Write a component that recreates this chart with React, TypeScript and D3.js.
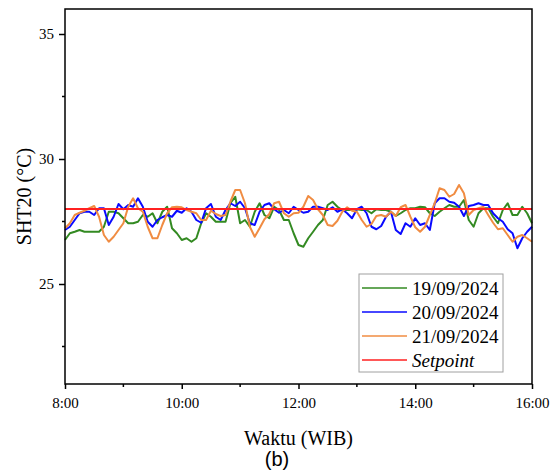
import React, { useRef, useEffect } from "react";
import * as d3 from "d3";

// temperature readings every 5 minutes from 8:00 to 16:00 (°C)
const sep19 = [
  26.76, 27.03, 27.09, 27.16, 27.09, 27.09, 27.09, 27.09, 27.29, 27.89, 27.89, 27.83,
  27.63, 27.43, 27.43, 27.49, 27.76, 27.69, 27.83, 27.43, 27.89, 28.09, 27.23, 27.03,
  26.76, 26.83, 26.69, 26.83, 27.43, 27.83, 27.69, 27.49, 27.49, 27.49, 28.23, 28.49,
  27.43, 27.56, 27.29, 27.89, 28.23, 27.76, 27.63, 28.09, 27.96, 27.56, 27.56, 27.03,
  26.56, 26.49, 26.83, 27.09, 27.36, 27.56, 28.16, 28.29, 28.09, 27.96, 27.96, 27.96,
  27.99, 27.96, 27.96, 27.83, 27.99, 27.96, 27.96, 27.89, 27.72, 27.83, 27.96, 28.03,
  28.03, 28.09, 28.07, 27.83, 27.72, 27.89, 28.03, 28.16, 28.09, 28.09, 28.36, 27.56,
  27.29, 27.83, 28.03, 28.03, 27.69, 27.43, 27.96, 28.23, 27.76, 27.76, 28.09, 27.83,
  27.43,
];
const sep20 = [
  27.16, 27.29, 27.56, 27.83, 27.89, 27.89, 27.76, 28.03, 28.03, 27.36, 27.69, 28.2,
  27.99, 28.16, 28.09, 28.43, 28.09, 27.49, 27.29, 27.56, 27.67, 27.76, 27.69, 27.93,
  27.85, 28.03, 27.89, 27.56, 27.45, 28.03, 28.2, 27.69, 27.56, 27.96, 28.23, 28.12,
  28.29, 28.03, 27.43, 27.36, 27.89, 28.16, 28.23, 27.99, 27.85, 27.96, 27.83, 28.09,
  27.96, 27.85, 27.89, 28.09, 28.09, 28.03, 27.96, 28.07, 27.89, 27.99, 27.83, 27.63,
  27.99, 28.09, 27.83, 27.29, 27.19, 27.32, 27.69, 27.89, 27.16, 27.0, 27.43, 27.29,
  27.63, 27.36, 27.43, 27.16, 28.23, 28.43, 28.43, 28.29, 28.25, 28.09, 27.72, 28.12,
  28.16, 28.23, 28.16, 28.16, 27.83, 27.63, 27.49, 27.19, 27.03, 26.43, 26.83, 27.09,
  27.29,
];
const sep21 = [
  27.23, 27.43, 27.76, 27.85, 27.93, 28.03, 28.12, 27.69, 26.96, 26.69, 26.89, 27.16,
  27.43, 28.09, 28.43, 28.03, 27.89, 27.29, 26.83, 26.83, 27.36, 27.83, 28.07, 28.09,
  28.07, 27.96, 27.89, 27.83, 27.56, 27.56, 27.93, 27.8, 27.72, 27.76, 28.29, 28.76,
  28.76, 28.23, 27.29, 26.89, 27.23, 27.59, 27.8, 28.23, 28.29, 27.83, 27.69, 27.83,
  27.85, 28.09, 28.52, 28.36, 27.99, 27.76, 27.36, 27.32, 27.53, 27.89, 28.07, 27.93,
  27.89, 27.56, 27.29, 27.4, 27.72, 27.76, 27.69, 27.89, 27.72, 28.07, 28.16, 27.69,
  27.27, 27.09, 27.29, 27.76, 28.23, 28.83, 28.76, 28.49, 28.6, 28.96, 28.63, 27.76,
  27.96, 28.03, 28.09, 27.76, 27.45, 27.19, 27.23, 26.96, 26.69, 26.89, 26.96, 26.83,
  26.69,
];
const setpoint = 28;

const seriesNames = ["19/09/2024", "20/09/2024", "21/09/2024"];
const seriesColors = ["#338a22", "#0a0aff", "#f08c42"];
const setpointColor = "#ff2121";

const startHour = 8;
const stepMinutes = 5;
const xTickHours = [8, 10, 12, 14, 16];
const xTickLabels = ["8:00", "10:00", "12:00", "14:00", "16:00"];
const xMinorHours = [9, 11, 13, 15];
const yTicks = [25, 30, 35];
const yMinor = [22.5, 27.5, 32.5];

const W = 559;
const H = 472;
const serif = "'Liberation Serif', 'Times New Roman', serif";

export default function App() {
  const svgRef = useRef<SVGSVGElement>(null);

  useEffect(() => {
    const svg = d3.select(svgRef.current);
    svg.selectAll("*").remove();

    const left = 65, right = 532, top = 9, bottom = 384;

    const x = d3.scaleLinear().domain([8, 16]).range([left, right]);
    const y = d3.scaleLinear().domain([21, 36]).range([bottom, top]);

    const line = d3
      .line<number>()
      .x((d, i) => x(startHour + (i * stepMinutes) / 60))
      .y((d) => y(d));

    // data lines
    [sep19, sep20, sep21].forEach((s, k) => {
      svg.append("path")
        .datum(s)
        .attr("fill", "none")
        .attr("stroke", seriesColors[k])
        .attr("stroke-width", 2)
        .attr("stroke-linejoin", "round")
        .attr("d", line);
    });

    // setpoint
    svg.append("line")
      .attr("x1", x(8)).attr("x2", x(16))
      .attr("y1", y(setpoint)).attr("y2", y(setpoint))
      .attr("stroke", setpointColor)
      .attr("stroke-width", 2);

    // frame
    svg.append("rect")
      .attr("x", left).attr("y", top)
      .attr("width", right - left).attr("height", bottom - top)
      .attr("fill", "none")
      .attr("stroke", "#000")
      .attr("stroke-width", 1.5);

    // x axis
    const xAxis = svg.append("g")
      .attr("transform", `translate(0,${bottom})`)
      .call(
        d3.axisBottom(x)
          .tickValues(xTickHours)
          .tickSize(5)
          .tickFormat((d, i) => xTickLabels[i])
      );
    xAxis.select(".domain").remove();
    xAxis.attr("font-family", serif).attr("font-size", 15);
    xAxis.selectAll("line").attr("stroke-width", 1.5);
    xAxis.selectAll("text")
      .style("font-family", serif)
      .style("font-size", "15px")
      .attr("fill", "#000")
      .attr("dy", "0.71em")
      .attr("y", 13);

    svg.append("g")
      .selectAll("line")
      .data(xMinorHours)
      .join("line")
      .attr("x1", (d) => x(d)).attr("x2", (d) => x(d))
      .attr("y1", bottom).attr("y2", bottom + 3)
      .attr("stroke", "#000")
      .attr("stroke-width", 1.5);

    // y axis
    const yAxis = svg.append("g")
      .attr("transform", `translate(${left},0)`)
      .call(d3.axisLeft(y).tickValues(yTicks).tickSize(6).tickPadding(5));
    yAxis.select(".domain").remove();
    yAxis.attr("font-family", serif).attr("font-size", 15);
    yAxis.selectAll("line").attr("stroke-width", 1.5);
    yAxis.selectAll("text")
      .style("font-family", serif)
      .style("font-size", "15px")
      .attr("fill", "#000");

    svg.append("g")
      .selectAll("line")
      .data(yMinor)
      .join("line")
      .attr("x1", left - 3).attr("x2", left)
      .attr("y1", (d) => y(d)).attr("y2", (d) => y(d))
      .attr("stroke", "#000")
      .attr("stroke-width", 1.5);

    // axis titles
    svg.append("text")
      .attr("x", (left + right) / 2)
      .attr("y", 445)
      .attr("text-anchor", "middle")
      .attr("font-family", serif)
      .attr("font-size", 20)
      .text("Waktu (WIB)");

    svg.append("text")
      .attr("transform", `translate(31,${(top + bottom) / 2}) rotate(-90)`)
      .attr("text-anchor", "middle")
      .attr("font-family", serif)
      .attr("font-size", 20)
      .text("SHT20 (°C)");

    svg.append("text")
      .attr("x", 277)
      .attr("y", 466)
      .attr("text-anchor", "middle")
      .attr("font-family", "'Liberation Sans', Arial, sans-serif")
      .attr("font-size", 20)
      .text("(b)");

    // legend
    const lg = svg.append("g").attr("transform", "translate(359,274)");
    lg.append("rect")
      .attr("width", 144).attr("height", 98)
      .attr("fill", "#fff")
      .attr("stroke", "#a0a0a0")
      .attr("stroke-width", 1);
    const entries = [
      ...seriesNames.map((n, k) => ({ name: n, color: seriesColors[k], italic: false })),
      { name: "Setpoint", color: setpointColor, italic: true },
    ];
    entries.forEach((e, k) => {
      const cy = 14 + k * 24;
      lg.append("line")
        .attr("x1", 3).attr("x2", 48)
        .attr("y1", cy).attr("y2", cy)
        .attr("stroke", e.color)
        .attr("stroke-width", 1.7);
      lg.append("text")
        .attr("x", 53)
        .attr("y", cy + 6.5)
        .attr("font-family", serif)
        .attr("font-size", 19)
        .attr("font-style", e.italic ? "italic" : "normal")
        .text(e.name);
    });
  }, []);

  return (
    <svg
      ref={svgRef}
      width={W}
      height={H}
      style={{ position: "absolute", left: 0, top: 0, background: "#fff" }}
    />
  );
}
